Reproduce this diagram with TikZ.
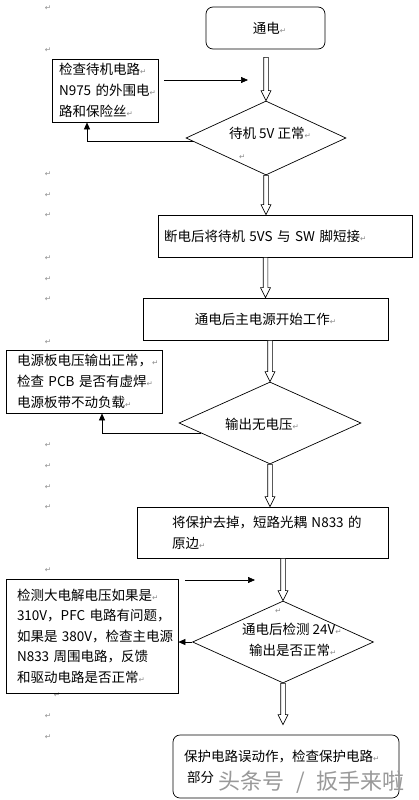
\documentclass[tikz,border=0pt]{standalone}
\usepackage{fontspec}
\newfontfamily\cjk{Noto Sans CJK SC}
\newfontfamily\retfont{DejaVu Sans}
\usetikzlibrary{shapes.geometric,arrows.meta,calc}
\newcommand{\retmark}{{\retfont\fontsize{7.5}{7.5}\selectfont\color{black!45}↵}}
\newcommand{\hollowarrow}[2]{\draw[hollow] let \p1=#1, \p2=#2 in
  (\x1-2.3pt,\y1) -- (\x1-2.3pt,\y2+10pt) -- (\x1-5pt,\y2+10pt) -- (\x1,\y2)
  -- (\x1+5pt,\y2+10pt) -- (\x1+2.3pt,\y2+10pt) -- (\x1+2.3pt,\y1) -- cycle;}
\tikzset{
  cjkfont/.style={font=\cjk\fontsize{13.5}{21}\selectfont},
  box/.style={draw, line width=0.7pt, cjkfont, inner ysep=0pt},
  rbox/.style={box, rounded corners=7pt},
  dia/.style={draw, diamond, line width=0.7pt, inner sep=0pt},
  txt/.style={cjkfont, inner sep=0pt, align=left},
  arr/.style={line width=0.7pt, -{Triangle[length=7pt,width=6pt]}},
  hollow/.style={draw=black, fill=white, line width=0.6pt, line join=miter},
  ret/.style={inner sep=0pt},
  wmark/.style={font=\cjk\fontsize{22}{22}\selectfont, text=black!40, inner sep=0pt}
}
\begin{document}
\begin{tikzpicture}[x=1pt,y=-1pt]
\useasboundingbox[fill=white] (0,0) rectangle (419,800);

% left column paragraph marks
\foreach \yy [count=\i] in {8,50,174,195,215,258,279,299,342,445,466,487,507,570,716,737}
  \node[ret] (r\i) at (48,\yy) {\retmark};
\node[ret] (r17) at (57,695) {\retmark};

% main chain
\node[rbox, minimum width=119pt, minimum height=42pt, inner xsep=0pt] (b1) at (265.5,28) {\hspace*{8pt}通电\retmark};

\node[dia, minimum width=160pt, minimum height=74pt] (d1) at (266,138) {};
\node[txt] (d1t) at (270,143) {待机 5V 正常\retmark\\\hspace*{10pt}\retmark};

\node[box, minimum height=42pt, text width=242pt, inner xsep=6pt, align=left] (b2) at (285,236)
  {\mbox{断电后将待机 5VS 与 SW 脚短接\retmark}};

\node[box, minimum width=245pt, minimum height=42pt, inner xsep=0pt] (b3) at (265.5,319) {通电后主电源开始工作\retmark};

\node[dia, minimum width=182pt, minimum height=82pt] (d2) at (270,423) {};
\node[txt] (d2t) at (262,424) {输出无电压\retmark};

\node[box, minimum height=51pt, text width=181pt, inner xsep=35pt, align=left] (b4) at (262.5,532.5)
  {\mbox{将保护去掉，短路光耦 N833 的}\\\mbox{原边\retmark}};

\node[dia, minimum width=181pt, minimum height=82pt] (d3) at (283,642) {};
\node[txt, anchor=west] (d3t) at (242,632.5)
  {\hspace*{33pt}\retmark\\\mbox{通电后检测 24V\retmark}\\\hspace*{7pt}\mbox{输出是否正常\retmark}};

\node[rbox, minimum height=63pt, text width=204pt, inner xsep=11pt, align=left] (b5) at (286,766.5)
  {\mbox{保护电路误动作，检查保护电路\retmark}\\\hspace*{3pt}\mbox{部分}};

% side boxes
\node[box, minimum height=63pt, text width=92pt, inner xsep=7pt, align=left] (l1) at (105,90.5)
  {\mbox{检查待机电路\retmark}\\\mbox{N975 的外围电\retmark}\\\mbox{路和保险丝\retmark}};

\node[box, minimum height=63pt, text width=134pt, inner xsep=11pt, align=left] (l2) at (84,381.5)
  {\mbox{电源板电压输出正常，\retmark}\\\mbox{检查 PCB 是否有虚焊\retmark}\\\mbox{电源板带不动负载\retmark}};

\node[box, minimum height=114pt, text width=150pt, inner xsep=11pt, align=left,
      font=\cjk\fontsize{13.5}{20.5}\selectfont] (l3) at (92,636)
  {\mbox{检测大电解电压如果是\retmark}\\\mbox{310V，PFC 电路有问题，}\\\mbox{如果是 380V，检查主电源}\\\mbox{N833 周围电路，反馈}\\\mbox{和驱动电路是否正常\retmark}};

% hollow (double) flow arrows
\hollowarrow{($(b1.south -| d1.north)+(0,8)$)}{(d1.north)}
\hollowarrow{(d1.south)}{(d1.south |- b2.north)}
\hollowarrow{(b3.north |- b2.south)}{(b3.north)}
\hollowarrow{(d2.north |- b3.south)}{(d2.north)}
\hollowarrow{(d2.south)}{(d2.south |- b4.north)}
\hollowarrow{(d3.north |- b4.south)}{(d3.north)}
\hollowarrow{(d3.south)}{($(d3.south |- b5.north)+(0,-10)$)}

% side connectors
\draw[arr] ($(d1.west)!0.1!(d1.south)$) -| ([xshift=-18pt]l1.south);
\draw[arr] ($(d2.west)!0.25!(d2.south)$) -| ([xshift=18pt]l2.south);
\draw[arr] (d3.west) -- (l3.east |- d3.west);

% free arrows
\coordinate (f1s) at (164,80);
\coordinate (f1e) at (248,80);
\draw[arr] (f1s) -- (f1e);
\coordinate (f2s) at (185,580);
\coordinate (f2e) at (255,580);
\draw[arr] (f2s) -- (f2e);

% watermark
\node[wmark, anchor=east] (wm) at (405,782) {头条号\hspace{12pt}/\hspace{12pt}扳手来啦};
\end{tikzpicture}
\end{document}
